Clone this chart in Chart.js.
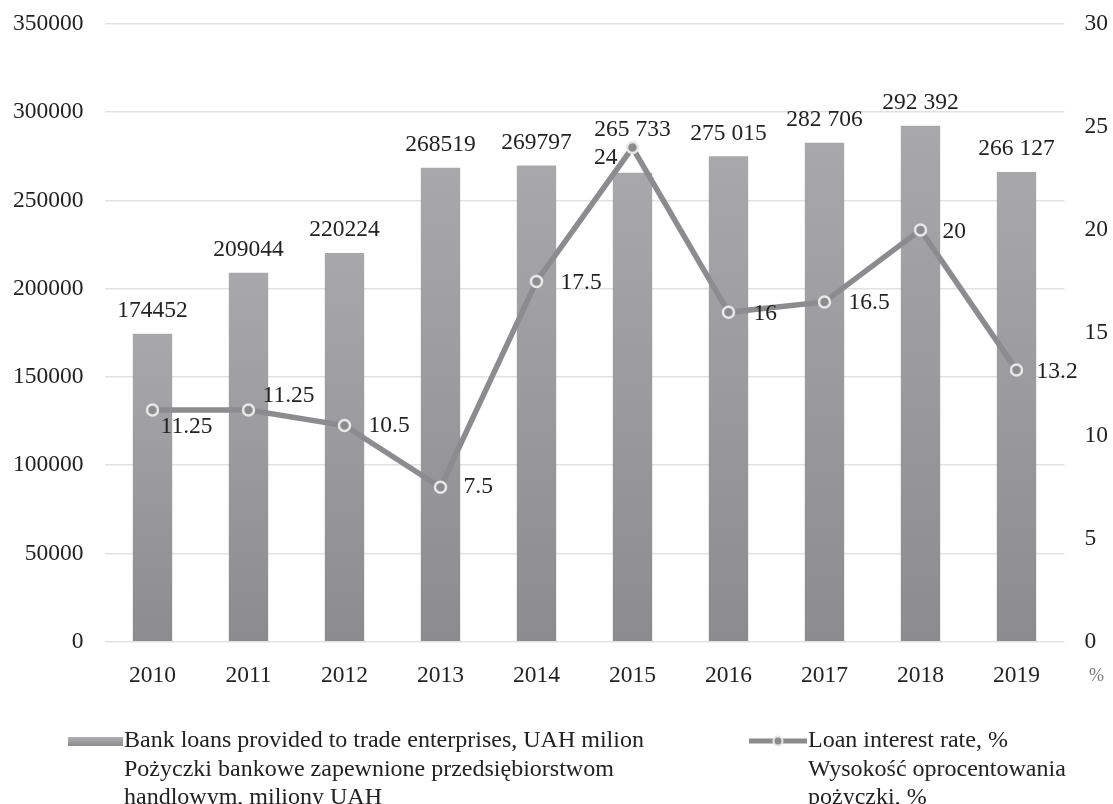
<!DOCTYPE html>
<html>
<head>
<meta charset="utf-8">
<script src="https://cdn.jsdelivr.net/npm/chart.js@4/dist/chart.umd.min.js"></script>
<style>
  html, body { margin: 0; padding: 0; background: #fff; }
  #wrap { width: 1113px; height: 804px; position: relative; }
</style>
</head>
<body>
<div id="wrap"><canvas id="loansChart" width="1113" height="804"></canvas></div>
<script>
const years = ['2010', '2011', '2012', '2013', '2014', '2015', '2016', '2017', '2018', '2019'];
const loans = [174452, 209044, 220224, 268519, 269797, 265733, 275015, 282706, 292392, 266127];
const loanText = ['174452', '209044', '220224', '268519', '269797', '265 733', '275 015', '282 706', '292 392', '266 127'];
const rates = [11.25, 11.25, 10.5, 7.5, 17.5, 24, 16, 16.5, 20, 13.2];
const rateText = ['11.25', '11.25', '10.5', '7.5', '17.5', '24', '16', '16.5', '20', '13.2'];
const loanTicks = [0, 50000, 100000, 150000, 200000, 250000, 300000, 350000];
const rateTicks = [0, 5, 10, 15, 20, 25, 30];

const barLegend = ['Bank loans provided to trade enterprises, UAH milion',
                   'Pożyczki bankowe zapewnione przedsiębiorstwom',
                   'handlowym, miliony UAH'];
const lineLegend = ['Loan interest rate, %',
                    'Wysokość oprocentowania',
                    'pożyczki, %'];

// label placement for line values: [dx, dy, align]
const rateLabelPos = [[8, 17, 'left'], [14, -14, 'left'], [24, 0, 'left'], [23, 0, 'left'], [24, 1, 'left'],
                      [-15, 10, 'right'], [25, 2, 'left'], [24, 1, 'left'], [22, 2, 'left'], [20, 2, 'left']];
// vertical gap above bars for loan labels
const loanLabelGap = [23, 23, 23, 23, 23, 43, 23, 23, 23, 23];

const FONT = '"Liberation Serif", "Times New Roman", serif';
const LINE_GREY = '#8c8c8e';

function barGradient(c) {
    const chart = c.chart;
    const area = chart.chartArea;
    if (!area || c.raw === undefined) return '#9a9a9c';
    const top = chart.scales.y.getPixelForValue(c.raw);
    const g = chart.ctx.createLinearGradient(0, top, 0, area.bottom);
    g.addColorStop(0, '#a8a8aa');
    g.addColorStop(1, '#8c8c8e');
    return g;
}

const labelsPlugin = {
    id: 'valueLabels',
    afterDatasetsDraw(chart) {
        const ctx = chart.ctx;
        ctx.save();
        ctx.font = '23.5px ' + FONT;
        ctx.fillStyle = '#222';
        ctx.textBaseline = 'middle';

        const bars = chart.getDatasetMeta(1).data;
        ctx.textAlign = 'center';
        bars.forEach((el, i) => {
            ctx.fillText(loanText[i], el.x, el.y - loanLabelGap[i]);
        });

        const pts = chart.getDatasetMeta(0).data;
        pts.forEach((el, i) => {
            const p = rateLabelPos[i];
            ctx.textAlign = p[2];
            ctx.fillText(rateText[i], el.x + p[0], el.y + p[1]);
        });

        // unit under right axis
        ctx.font = '18px ' + FONT;
        ctx.fillStyle = '#777';
        ctx.textAlign = 'center';
        ctx.fillText('%', chart.chartArea.right + 32, chart.chartArea.bottom + 35);
        ctx.restore();
    }
};

const legendPlugin = {
    id: 'twoColLegend',
    afterDraw(chart) {
        const ctx = chart.ctx;
        const y0 = 741, lh = 28.5;
        ctx.save();
        // bar swatch
        const g = ctx.createLinearGradient(0, 737, 0, 746);
        g.addColorStop(0, '#b0b0b2');
        g.addColorStop(1, '#8c8c8e');
        ctx.fillStyle = g;
        ctx.fillRect(68, 737, 55, 9);
        // line swatch
        ctx.strokeStyle = LINE_GREY;
        ctx.lineWidth = 5;
        ctx.beginPath();
        ctx.moveTo(749, y0);
        ctx.lineTo(807, y0);
        ctx.stroke();
        ctx.beginPath();
        ctx.arc(778, y0, 4.5, 0, Math.PI * 2);
        ctx.fillStyle = LINE_GREY;
        ctx.fill();
        ctx.lineWidth = 2;
        ctx.strokeStyle = '#e6e6e6';
        ctx.stroke();

        ctx.font = '24px ' + FONT;
        ctx.fillStyle = '#222';
        ctx.textAlign = 'left';
        ctx.textBaseline = 'middle';
        barLegend.forEach((t, i) => ctx.fillText(t, 124, y0 + i * lh));
        lineLegend.forEach((t, i) => ctx.fillText(t, 808, y0 + i * lh));
        ctx.restore();
    }
};

const plainTick = v => String(v);

const ctx = document.getElementById('loansChart').getContext('2d');
const loansChart = new Chart(ctx, {
    type: 'bar',
    data: {
        labels: years,
        datasets: [{
            type: 'line',
            label: lineLegend.join(' '),
            data: rates,
            yAxisID: 'y1',
            order: 0,
            borderColor: LINE_GREY,
            borderWidth: 5.5,
            pointRadius: 5.5,
            pointHoverRadius: 5.5,
            pointBackgroundColor: LINE_GREY,
            pointBorderColor: '#e8e8e8',
            pointBorderWidth: 2.5,
            tension: 0
        }, {
            label: barLegend.join(' '),
            data: loans,
            yAxisID: 'y',
            order: 1,
            backgroundColor: barGradient,
            barPercentage: 0.41,
            categoryPercentage: 1
        }]
    },
    options: {
        responsive: false,
        animation: false,
        devicePixelRatio: 1,
        layout: { padding: { top: 24, right: 0, left: 0, bottom: 0 } },
        plugins: {
            legend: { display: false },
            tooltip: { enabled: false }
        },
        scales: {
            x: {
                grid: { display: false },
                border: { display: false },
                ticks: { color: '#222', font: { family: FONT, size: 23.5 }, padding: 12, maxRotation: 0 },
                afterFit(s) { s.height = 162.3; }
            },
            y: {
                position: 'left',
                min: 0,
                max: 350000,
                afterBuildTicks(s) { s.ticks = loanTicks.map(v => ({ value: v })); },
                grid: { color: '#e2e2e2', lineWidth: 1.5, drawTicks: true, tickLength: 17, tickColor: 'rgba(0,0,0,0)' },
                border: { display: false },
                ticks: { color: '#222', font: { family: FONT, size: 23.5 }, padding: 4, callback: plainTick },
                afterFit(s) { s.width = 104.5; }
            },
            y1: {
                position: 'right',
                min: 0,
                max: 30,
                afterBuildTicks(s) { s.ticks = rateTicks.map(v => ({ value: v })); },
                grid: { drawOnChartArea: false, drawTicks: true, tickLength: 16, tickColor: 'rgba(0,0,0,0)' },
                border: { display: false },
                ticks: { color: '#222', font: { family: FONT, size: 23.5 }, padding: 4, callback: plainTick },
                afterFit(s) { s.width = 48.5; }
            }
        }
    },
    plugins: [labelsPlugin, legendPlugin]
});
</script>
</body>
</html>
